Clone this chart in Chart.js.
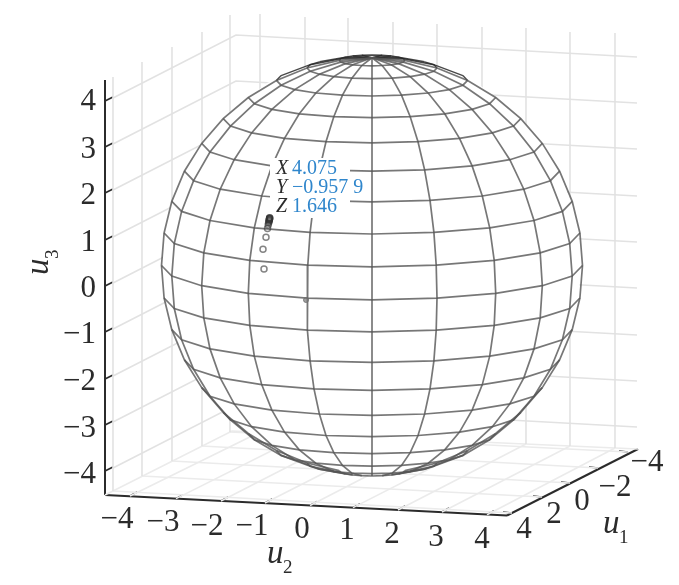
<!DOCTYPE html>
<html>
<head>
<meta charset="utf-8">
<style>
  html, body { margin: 0; padding: 0; background: #fff; }
  /* the reference is a soft scan */
  canvas { display: block; filter: blur(0.5px); }
</style>
<script src="https://cdn.jsdelivr.net/npm/chart.js@4"></script>
</head>
<body>
<canvas id="sphereChart" width="679" height="585"></canvas>
<script>

// Wire mesh crossings: rows go from the top ring to the bottom ring, columns left to right
const meshX = [
  [339.1, 340.7, 345.4, 352.7, 361.8, 372, 382.2, 391.3, 398.6, 403.3, 404.9],
  [307, 310.2, 319.4, 333.8, 351.9, 372, 392.1, 410.2, 424.6, 433.8, 437],
  [276.4, 281.1, 294.7, 315.8, 342.5, 372, 401.5, 428.2, 449.3, 462.9, 467.6],
  [248.3, 254.4, 271.9, 299.3, 333.8, 372, 410.2, 444.7, 472.1, 489.6, 495.7],
  [223.2, 230.5, 251.6, 284.5, 326, 372, 418, 459.5, 492.4, 513.5, 520.8],
  [201.7, 210, 234.2, 271.9, 319.4, 372, 424.6, 472.1, 509.8, 534, 542.3],
  [184.4, 193.6, 220.2, 261.7, 314, 372, 430, 482.3, 523.8, 550.4, 559.6],
  [171.8, 181.6, 210, 254.3, 310.1, 372, 433.9, 489.7, 534, 562.4, 572.2],
  [164.1, 174.3, 203.8, 249.8, 307.8, 372, 436.2, 494.2, 540.2, 569.7, 579.9],
  [161.5, 171.8, 201.7, 248.3, 307, 372, 437, 495.7, 542.3, 572.2, 582.5],
  [164.1, 174.3, 203.8, 249.8, 307.8, 372, 436.2, 494.2, 540.2, 569.7, 579.9],
  [171.8, 181.6, 210, 254.3, 310.1, 372, 433.9, 489.7, 534, 562.4, 572.2],
  [184.4, 193.6, 220.2, 261.7, 314, 372, 430, 482.3, 523.8, 550.4, 559.6],
  [201.7, 210, 234.2, 271.9, 319.4, 372, 424.6, 472.1, 509.8, 534, 542.3],
  [223.2, 230.5, 251.6, 284.5, 326, 372, 418, 459.5, 492.4, 513.5, 520.8],
  [248.3, 254.4, 271.9, 299.3, 333.8, 372, 410.2, 444.7, 472.1, 489.6, 495.7],
  [276.4, 281.1, 294.7, 315.8, 342.5, 372, 401.5, 428.2, 449.3, 462.9, 467.6],
  [307, 310.2, 319.4, 333.8, 351.9, 372, 392.1, 410.2, 424.6, 433.8, 437],
  [339.1, 340.7, 345.4, 352.7, 361.8, 372, 382.2, 391.3, 398.6, 403.3, 404.9]
];
const meshY = [
  [60.4, 62.1, 63.6, 64.8, 65.5, 65.8, 65.5, 64.8, 63.6, 62.1, 60.4],
  [68, 71.3, 74.2, 76.6, 78.1, 78.6, 78.1, 76.6, 74.2, 71.3, 68],
  [80.4, 85.2, 89.6, 93, 95.2, 96, 95.2, 93, 89.6, 85.2, 80.4],
  [97.5, 103.7, 109.4, 113.8, 116.7, 117.7, 116.7, 113.8, 109.4, 103.7, 97.5],
  [118.6, 126.1, 132.9, 138.3, 141.7, 142.9, 141.7, 138.3, 132.9, 126.1, 118.6],
  [143.4, 152, 159.7, 165.9, 169.8, 171.2, 169.8, 165.9, 159.7, 152, 143.4],
  [171.2, 180.7, 189.2, 196, 200.3, 201.8, 200.3, 196, 189.2, 180.7, 171.2],
  [201.3, 211.4, 220.5, 227.8, 232.4, 234, 232.4, 227.8, 220.5, 211.4, 201.3],
  [233, 243.5, 252.9, 260.4, 265.2, 266.9, 265.2, 260.4, 252.9, 243.5, 233],
  [265.5, 276.1, 285.7, 293.3, 298.2, 299.9, 298.2, 293.3, 285.7, 276.1, 265.5],
  [298, 308.5, 317.9, 325.4, 330.2, 331.9, 330.2, 325.4, 317.9, 308.5, 298],
  [329.7, 339.8, 348.9, 356.2, 360.8, 362.4, 360.8, 356.2, 348.9, 339.8, 329.7],
  [359.8, 369.3, 377.8, 384.6, 388.9, 390.4, 388.9, 384.6, 377.8, 369.3, 359.8],
  [387.6, 396.2, 403.9, 410.1, 414, 415.4, 414, 410.1, 403.9, 396.2, 387.6],
  [412.4, 419.9, 426.7, 432.1, 435.5, 436.7, 435.5, 432.1, 426.7, 419.9, 412.4],
  [433.5, 439.7, 445.4, 449.8, 452.7, 453.7, 452.7, 449.8, 445.4, 439.7, 433.5],
  [450.6, 455.4, 459.8, 463.2, 465.4, 466.2, 465.4, 463.2, 459.8, 455.4, 450.6],
  [463, 466.3, 469.2, 471.6, 473.1, 473.6, 473.1, 471.6, 469.2, 466.3, 463],
  [470.6, 472.3, 473.8, 475, 475.7, 476, 475.7, 475, 473.8, 472.3, 470.6]
];
const poleTop = [372, 57.8];

// Short pieces of the far side that show over the top of the sphere
const farSideLines = [
  [[339.1, 60.4], [340.7, 58.7], [345.4, 57.2], [352.7, 56], [361.8, 55.3], [372, 55], [382.2, 55.3], [391.3, 56], [398.6, 57.2], [403.3, 58.7], [404.9, 60.4]],
  [[307, 68], [310.2, 64.7], [319.4, 61.8]],
  [[437, 68], [433.8, 64.7], [424.6, 61.8]],
  [[276.4, 80.4], [281.1, 75.6]],
  [[467.6, 80.4], [462.9, 75.6]],
  [[281.1, 75.6], [310.2, 64.7], [340.7, 58.7], [372, 57.8]],
  [[462.9, 75.6], [433.8, 64.7], [403.3, 58.7], [372, 57.8]],
  [[319.4, 61.8], [345.4, 57.2], [372, 57.8]],
  [[424.6, 61.8], [398.6, 57.2], [372, 57.8]],
  [[352.7, 56], [372, 57.8]],
  [[391.3, 56], [372, 57.8]],
  [[361.8, 55.3], [372, 57.8]],
  [[382.2, 55.3], [372, 57.8]]
];

// Outline of the sphere, filled white so it hides the box grid behind it
const outlineX = [582, 575, 554, 521, 477, 426, 372, 318, 267, 223, 190, 169, 162, 169, 190, 223, 267, 318, 372, 426, 477, 521, 554, 575];
const outlineY = [265, 211, 160, 117, 83, 62, 55, 62, 83, 117, 160, 211, 265, 320, 371, 414, 448, 469, 476, 469, 448, 414, 371, 320];

// Iteration points climbing towards the data tip
const startPoint = [[306, 300]];
const trackX = [264, 263, 266, 267.5, 268.2, 268.6, 268.9, 269.1, 269.3, 269.4, 269.5, 269.6, 269.6, 269.7];
const trackY = [269, 249.3, 237.3, 228.5, 225, 223, 221.8, 220.8, 220, 219.4, 218.8, 218.4, 218, 217.7];

// Axis lines
const u3Axis = [[105, 80], [105, 495]];
const u2Axis = [[105, 495], [507, 515.5]];
const u1Axis = [[507, 515.5], [638, 449]];

// Tick positions on each axis
const u3TickY = [99, 145, 191, 238, 284, 330, 377, 423, 469];
const u2TickX = [130, 176, 221, 265, 310, 353, 398, 442, 487];
const u2TickY = [496, 498.6, 501, 503, 505.5, 507.6, 510, 512, 514.7];
const u1TickX = [512, 542, 570, 598, 628];
const u1TickY = [513, 497, 483, 468, 452];

// Tick labels
const u3Labels = ['4', '3', '2', '1', '0', '\u22121', '\u22122', '\u22123', '\u22124'];
const u3LabelY = [99.5, 147, 193.5, 240, 286, 332, 379, 426, 472];
const u2Labels = ['\u22124', '\u22123', '\u22122', '\u22121', '0', '1', '2', '3', '4'];
const u2LabelX = [117, 163, 207, 252, 302, 347, 392, 436, 482];
const u2LabelY = [517, 520, 524, 524, 527, 528, 532, 535, 537];
const u1Labels = ['4', '2', '0', '\u22122', '\u22124'];
const u1LabelX = [524, 554, 582, 615, 647];
const u1LabelY = [527, 512, 499, 485, 460];

// Data tip
const tipNames = ['X', 'Y', 'Z'];
const tipValues = ['4.075', '\u22120.957 9', '1.646'];
const tipBaseY = [174, 193, 212];

// Box grid: left wall, back wall and floor
const wallRowY = [99, 145, 191, 238, 284, 330, 377, 423, 469];
const leftVerticals = [[113, 491, 77], [142, 476, 62], [172, 461, 47], [202, 446, 32], [230, 432, 15]];
const backVerticals = [[260, 432, 14], [305, 434, 17], [348, 436, 18], [393, 438, 22], [437, 440, 24], [482, 442, 27], [526, 444, 28], [570, 446, 32], [615, 448, 33]];
const floorLinesA = [[130, 496, 260, 432], [176, 498.6, 305, 434], [221, 501, 348, 436], [265, 503, 393, 438], [310, 505.5, 437, 440], [353, 507.6, 482, 442], [398, 510, 526, 444], [442, 512, 570, 446], [487, 514.7, 615, 448]];
const floorLinesB = [[113, 491, 512, 513], [142, 476, 542, 497], [172, 461, 570, 483], [202, 446, 598, 468], [230, 432, 628, 452]];

const SERIF = "'Liberation Serif', serif";
const INK = '#2b2b2b';
const MESH = 'rgba(85,85,85,0.8)';

const toPoints = (xs, ys) => xs.map((x, i) => ({ x, y: ys[i] }));
const pairPoints = (pairs) => pairs.map(p => ({ x: p[0], y: p[1] }));

const lineSet = (points, color, width) => ({
    data: points,
    showLine: true,
    borderColor: color,
    borderWidth: width,
    pointRadius: 0,
    fill: false,
    tension: 0
});

// Mesh rings and meridians
const meshSets = [];
meshX.forEach((row, r) => {
    meshSets.push(lineSet(toPoints(row, meshY[r]), MESH, 1.7));
});
meshX[0].forEach((_, c) => {
    const pts = [{ x: poleTop[0], y: poleTop[1] }];
    meshX.forEach((row, r) => pts.push({ x: row[c], y: meshY[r][c] }));
    meshSets.push(lineSet(pts, MESH, 1.7));
});
farSideLines.forEach(l => meshSets.push(lineSet(pairPoints(l), 'rgba(40,40,40,0.85)', 1.4)));

// Box grid
const gridColor = '#e2e2e2';
const floorColor = '#ebebeb';
const gridSets = [];
wallRowY.forEach(y => {
    gridSets.push(lineSet([{ x: 113, y: y - 1 }, { x: 236, y: y - 64 }, { x: 637, y: y - 42 }], gridColor, 1.6));
});
leftVerticals.concat(backVerticals).forEach(v => {
    gridSets.push(lineSet([{ x: v[0], y: v[1] }, { x: v[0], y: v[2] }], gridColor, 1.6));
});
floorLinesA.concat(floorLinesB).forEach(l => {
    gridSets.push(lineSet([{ x: l[0], y: l[1] }, { x: l[2], y: l[3] }], floorColor, 1.6));
});
gridSets.push(lineSet([{ x: 105, y: 495 }, { x: 232, y: 431 }, { x: 638, y: 449 }], floorColor, 1.6));

// Axes and ticks
const axisSets = [
    lineSet(pairPoints(u3Axis), INK, 2),
    lineSet(pairPoints(u2Axis), INK, 2),
    lineSet(pairPoints(u1Axis), INK, 2)
];
u3TickY.forEach(y => axisSets.push(lineSet([{ x: 105, y: y + 2 }, { x: 113, y: y - 2 }], INK, 1.6)));
u2TickX.forEach((x, i) => axisSets.push(lineSet([{ x, y: u2TickY[i] }, { x: x + 7, y: u2TickY[i] - 4 }], INK, 1.6)));
u1TickX.forEach((x, i) => axisSets.push(lineSet([{ x, y: u1TickY[i] }, { x: x - 9, y: u1TickY[i] - 1 }], INK, 1.6)));

const sphereFill = {
    data: toPoints(outlineX, outlineY),
    showLine: true,
    borderWidth: 0,
    borderColor: 'rgba(0,0,0,0)',
    backgroundColor: '#fff',
    pointRadius: 0,
    fill: 'shape'
};

const markerSets = [
    {
        data: pairPoints(startPoint),
        pointRadius: 2.5,
        pointBackgroundColor: 'rgba(120,120,120,0.7)',
        pointBorderColor: 'rgba(110,110,110,0.8)',
        pointBorderWidth: 1
    },
    {
        data: toPoints(trackX, trackY),
        pointRadius: 3,
        pointBackgroundColor: 'rgba(255,255,255,0)',
        pointBorderColor: 'rgba(50,50,50,0.6)',
        pointBorderWidth: 1.5
    }
];

// Tick labels, axis names and the data tip are plain canvas text placed through the scales
const textPlugin = {
    id: 'textPlugin',
    afterDatasetDraw: (chart, args) => {
        // runs once the whole mesh is down, so the markers still land on top of the tip box
        if (args.index !== markerSets.length) return;
        const { ctx, scales: { x, y } } = chart;
        ctx.save();
        ctx.fillStyle = '#fff';
        const left = x.getPixelForValue(270), top = y.getPixelForValue(158);
        ctx.fillRect(left, top, x.getPixelForValue(350) - left, y.getPixelForValue(218) - top);
        ctx.textAlign = 'left';
        ctx.textBaseline = 'alphabetic';
        tipNames.forEach((name, i) => {
            ctx.font = 'italic 20px ' + SERIF;
            ctx.fillStyle = INK;
            ctx.fillText(name, x.getPixelForValue(276), y.getPixelForValue(tipBaseY[i]));
            ctx.font = '20px ' + SERIF;
            ctx.fillStyle = '#2f86cc';
            ctx.fillText(tipValues[i], x.getPixelForValue(292), y.getPixelForValue(tipBaseY[i]));
        });
        ctx.restore();
    },
    afterDraw: (chart) => {
        const { ctx, scales: { x, y } } = chart;
        ctx.save();
        ctx.fillStyle = INK;
        ctx.font = '31px ' + SERIF;
        ctx.textBaseline = 'middle';
        ctx.textAlign = 'right';
        // canvas "middle" sits a little above the digit centre
        const nudge = 2.5;
        u3Labels.forEach((t, i) => ctx.fillText(t, x.getPixelForValue(96), y.getPixelForValue(u3LabelY[i]) + nudge));
        ctx.textAlign = 'center';
        u2Labels.forEach((t, i) => ctx.fillText(t, x.getPixelForValue(u2LabelX[i]), y.getPixelForValue(u2LabelY[i]) + nudge));
        u1Labels.forEach((t, i) => ctx.fillText(t, x.getPixelForValue(u1LabelX[i]), y.getPixelForValue(u1LabelY[i]) + nudge));

        // axis names: italic u with an upright subscript
        const axisName = (sub, px, py, turned) => {
            ctx.save();
            ctx.translate(x.getPixelForValue(px), y.getPixelForValue(py));
            if (turned) ctx.rotate(-Math.PI / 2);
            ctx.textAlign = 'left';
            ctx.textBaseline = 'alphabetic';
            ctx.font = 'italic 33px ' + SERIF;
            ctx.fillText('u', 0, 0);
            ctx.font = '19px ' + SERIF;
            ctx.fillText(sub, 16, 10);
            ctx.restore();
        };
        axisName('3', 48, 275, true);
        axisName('2', 267, 563, false);
        axisName('1', 603, 533, false);
        ctx.restore();
    }
};

new Chart(document.getElementById('sphereChart').getContext('2d'), {
    type: 'scatter',
    plugins: [textPlugin],
    data: { datasets: markerSets.concat(meshSets, [sphereFill], gridSets, axisSets) },
    options: {
        responsive: false,
        animation: false,
        layout: { autoPadding: false, padding: 0 },
        plugins: { legend: { display: false }, tooltip: { enabled: false } },
        scales: {
            x: { type: 'linear', display: false, min: 0, max: 679 },
            y: { type: 'linear', display: false, min: 0, max: 585, reverse: true }
        }
    }
});
</script>
</body>
</html>
